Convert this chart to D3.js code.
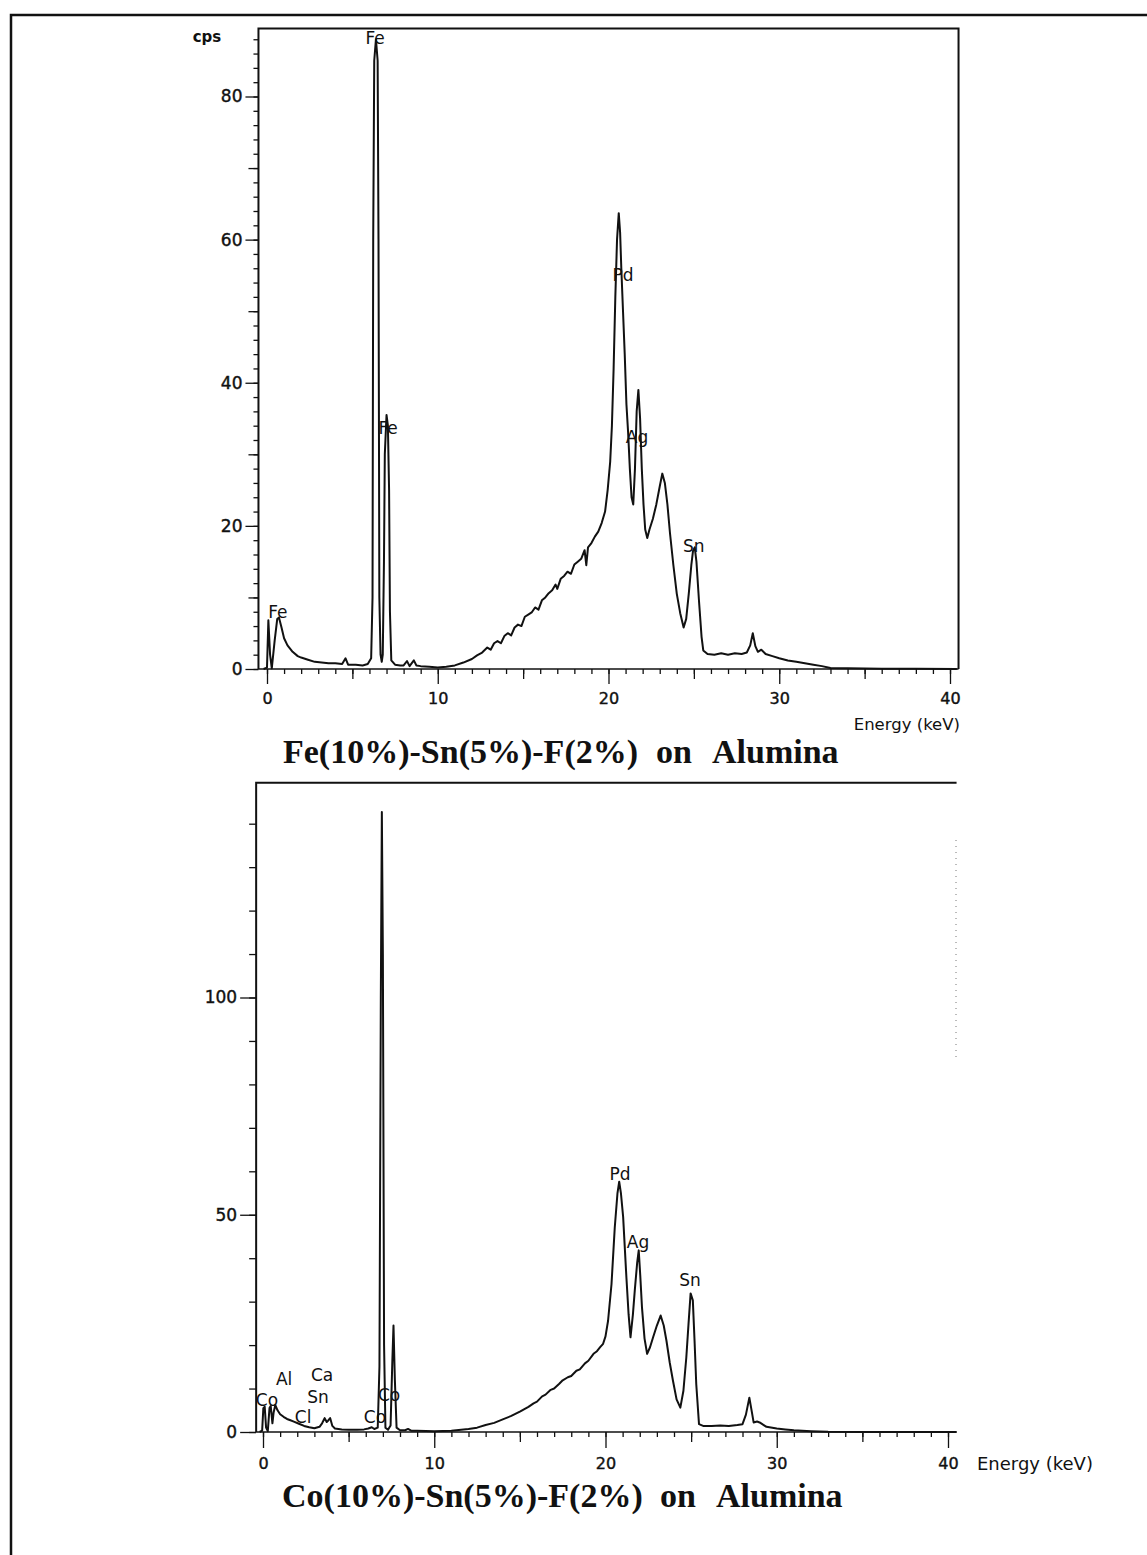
<!DOCTYPE html>
<html>
<head>
<meta charset="utf-8">
<script src="https://cdn.jsdelivr.net/npm/d3@7"></script>
<style>
  body { margin: 0; background: #fff; }
  .title { font-family: "Liberation Serif", "Times New Roman", serif; font-weight: bold; font-size: 34px; fill: #111; }
</style>
</head>
<body>
<svg id="page" width="1147" height="1555"></svg>
<script>
"use strict";

// Fe(10%)-Sn(5%)-F(2%) spectrum
var feEnergy = [-0.2, 0.0, 0.08, 0.18, 0.28, 0.45, 0.6, 0.7, 0.85, 1.0, 1.2, 1.5, 1.8, 2.0, 2.4, 2.8, 3.2, 3.6, 4.0, 4.4,
    4.6, 4.75, 5.2, 5.6, 5.9, 6.1, 6.18, 6.22, 6.28, 6.38, 6.48, 6.53, 6.58, 6.65, 6.72, 6.78, 6.85, 6.9, 7.0, 7.08,
    7.15, 7.2, 7.28, 7.5, 7.8, 8.0, 8.2, 8.35, 8.6, 8.75, 9.0, 9.5, 10.0, 10.5, 11.0, 11.5, 12.0, 12.3, 12.6, 12.9,
    13.1, 13.3, 13.5, 13.7, 13.9, 14.1, 14.3, 14.5, 14.7, 14.9, 15.1, 15.3, 15.5, 15.7, 15.9, 16.1, 16.3, 16.5, 16.7, 16.9,
    17.0, 17.2, 17.4, 17.6, 17.8, 18.0, 18.2, 18.4, 18.6, 18.7, 18.8, 19.0, 19.2, 19.4, 19.6, 19.8, 19.95, 20.1, 20.2, 20.3,
    20.4, 20.5, 20.6, 20.68, 20.75, 20.85, 20.95, 21.05, 21.15, 21.25, 21.35, 21.45, 21.55, 21.65, 21.75, 21.85, 21.95, 22.05, 22.15, 22.27,
    22.4, 22.6, 22.8, 23.0, 23.15, 23.3, 23.45, 23.6, 23.8, 24.0, 24.2, 24.4, 24.55, 24.7, 24.85, 24.95, 25.05, 25.15, 25.3, 25.45,
    25.55, 25.8, 26.2, 26.6, 27.0, 27.4, 27.8, 28.1, 28.3, 28.45, 28.6, 28.75, 28.95, 29.2, 29.6, 30.0, 30.5, 31.0, 31.5, 32.0,
    32.5, 33.0, 34.0, 36.0, 38.0, 40.4];
var feCps = [0, 0.2, 6.8, 2, 0.1, 4, 7.0, 7.2, 5.8, 4.3, 3.3, 2.4, 1.8, 1.6, 1.3, 1.0, 0.9, 0.8, 0.8, 0.7,
    1.5, 0.6, 0.6, 0.5, 0.7, 1.5, 10, 60, 85, 88, 85, 60, 10, 2, 1.0, 2, 15, 30, 35.5, 34,
    25, 8, 1.2, 0.6, 0.5, 0.5, 1.1, 0.4, 1.2, 0.5, 0.4, 0.3, 0.2, 0.3, 0.5, 0.9, 1.4, 1.9, 2.3, 3.0,
    2.7, 3.6, 3.9, 3.6, 4.6, 5.0, 4.7, 5.8, 6.2, 6.0, 7.3, 7.6, 7.9, 8.6, 8.3, 9.6, 10.0, 10.6, 11.0, 11.8,
    11.2, 12.6, 13.0, 13.6, 13.3, 14.6, 15.0, 15.4, 16.6, 14.5, 17.0, 17.6, 18.5, 19.2, 20.4, 22, 25, 29, 34, 42,
    52, 60, 63.7, 61, 56, 50, 44, 37, 33, 28, 24, 23, 28, 36, 39, 35, 28, 23, 19.5, 18.3,
    19.5, 21, 23, 25.5, 27.3, 26, 23, 19, 14.5, 10.5, 7.8, 5.8, 7, 10.5, 14.5, 16.5, 17, 15, 9.5, 4.5,
    2.6, 2.1, 2.0, 2.2, 2.0, 2.2, 2.1, 2.3, 3.3, 5.0, 3.2, 2.4, 2.7, 2.1, 1.8, 1.5, 1.2, 1.0, 0.8, 0.6,
    0.4, 0.15, 0.1, 0.05, 0.05, 0];

// Co(10%)-Sn(5%)-F(2%) spectrum
var coEnergy = [-0.2, -0.05, 0.02, 0.1, 0.18, 0.28, 0.38, 0.45, 0.55, 0.62, 0.72, 0.85, 1.0, 1.2, 1.4, 1.6, 1.8, 2.1, 2.4, 2.7,
    3.0, 3.3, 3.45, 3.6, 3.72, 3.8, 3.92, 4.05, 4.2, 4.6, 5.0, 5.5, 5.9, 6.15, 6.35, 6.5, 6.7, 6.8, 6.88, 6.94,
    7.0, 7.07, 7.15, 7.3, 7.45, 7.55, 7.62, 7.7, 7.8, 8.0, 8.3, 8.47, 8.65, 9.0, 10.0, 11.0, 12.0, 12.5, 13.0, 13.5,
    14.0, 14.5, 15.0, 15.5, 15.8, 16.0, 16.3, 16.5, 16.8, 17.0, 17.3, 17.5, 17.8, 18.0, 18.3, 18.5, 18.8, 19.0, 19.3, 19.5,
    19.7, 19.86, 20.0, 20.15, 20.35, 20.54, 20.7, 20.8, 20.9, 21.03, 21.22, 21.35, 21.46, 21.6, 21.71, 21.85, 21.94, 22.03, 22.13, 22.28,
    22.43, 22.6, 22.78, 23.0, 23.22, 23.4, 23.56, 23.75, 23.94, 24.15, 24.37, 24.55, 24.72, 24.85, 24.97, 25.1, 25.2, 25.3, 25.46, 25.7,
    26.2, 26.7, 27.2, 27.7, 28.0, 28.2, 28.4, 28.55, 28.65, 28.85, 29.0, 29.4, 30.0, 30.5, 31.0, 32.0, 33.0, 35.0, 40.5];
var coCps = [0, 0.3, 5.5, 5.8, 1, 0.2, 5.5, 6.0, 2, 4.5, 6.2, 5.0, 4.1, 3.5, 3.0, 2.7, 2.4, 1.9, 1.4, 1.1,
    0.85, 1.2, 2.0, 3.2, 2.3, 2.6, 3.2, 1.4, 0.8, 0.6, 0.5, 0.5, 0.6, 0.8, 1.1, 0.7, 1.0, 15, 100, 142.7,
    110, 20, 1.0, 0.5, 1.5, 16, 24.5, 12, 1.0, 0.4, 0.4, 0.7, 0.3, 0.3, 0.2, 0.3, 0.7, 1.0, 1.6, 2.1,
    2.9, 3.7, 4.7, 5.8, 6.6, 7.0, 8.2, 8.6, 9.7, 10.0, 11.1, 11.9, 12.6, 12.9, 14.1, 14.4, 15.8, 16.4, 18.0, 18.6,
    19.6, 20.3, 22, 25.6, 34, 47, 55, 57.6, 55, 49.5, 35.6, 27, 21.8, 27, 32.6, 39, 41.8, 36, 28.7, 21.5,
    18, 19.5, 21.8, 24.5, 26.8, 24.5, 21, 16, 11.8, 7.5, 5.6, 9.5, 17.2, 25, 31.9, 30.3, 21, 11, 1.8, 1.4,
    1.4, 1.5, 1.4, 1.6, 1.8, 4, 7.9, 4.5, 2.2, 2.4, 2.2, 1.2, 0.8, 0.6, 0.4, 0.2, 0.05, 0, 0];

// peak labels (energy, cps at label centre)
var feLabels = ["Fe", "Fe", "Fe", "Pd", "Ag", "Sn"];
var feLabelE = [0.64, 6.33, 7.09, 20.85, 21.67, 25.0];
var feLabelCps = [8.0, 88.2, 33.7, 55.1, 32.4, 17.2];

var coLabels = ["Co", "Al", "Ca", "Sn", "Cl", "Co", "Co", "Pd", "Ag", "Sn"];
var coLabelE = [0.23, 1.23, 3.45, 3.21, 2.34, 6.54, 7.36, 20.85, 21.9, 24.93];
var coLabelCps = [7.4, 12.2, 13.1, 8.1, 3.5, 3.5, 8.5, 59.4, 43.7, 35.0];

// ticks
var xMajor = [0, 10, 20, 30, 40];
var xMid = [5, 15, 25, 35];
var xMinor = d3.range(0, 41, 1);
var feYMajor = [0, 20, 40, 60, 80];
var feYMid = [10, 30, 50, 70];
var feYMinor = d3.range(0, 89, 2);
var coYMajor = [0, 50, 100];
var coYMinor = d3.range(0, 150, 10);

var svg = d3.select("#page");
svg.append("rect").attr("width", 1147).attr("height", 1555).attr("fill", "#fff");

// page border (top and left only)
svg.append("path")
    .attr("d", "M11,1555V15H1147")
    .attr("fill", "none")
    .attr("stroke", "#111")
    .attr("stroke-width", 2.5);

var ink = "#111";
var font = "'DejaVu Sans', sans-serif";

function styleAxis(g, size) {
    g.select(".domain").remove();
    g.selectAll("line").attr("stroke", ink).attr("stroke-width", 1.3);
    g.attr("font-family", font).attr("font-size", size);
    g.selectAll("text").attr("fill", ink)
        .attr("stroke", ink).attr("stroke-width", 0.4);
}

function drawPanel(opt) {
    var x = d3.scaleLinear().domain([0, 40]).range(opt.xRange);
    var y = d3.scaleLinear().domain([0, opt.yRef]).range(opt.yRange);
    var g = svg.append("g");

    // x axis ticks
    g.append("g").attr("transform", "translate(0," + y(0) + ")")
        .call(d3.axisBottom(x).tickValues(xMinor).tickSize(5).tickFormat(""))
        .call(styleAxis, 16);
    g.append("g").attr("transform", "translate(0," + y(0) + ")")
        .call(d3.axisBottom(x).tickValues(xMid).tickSize(10).tickFormat(""))
        .call(styleAxis, 16);
    g.append("g").attr("transform", "translate(0," + y(0) + ")")
        .call(d3.axisBottom(x).tickValues(xMajor).tickSize(opt.xMajorSize).tickPadding(opt.xPad).tickFormat(d3.format("d")))
        .call(styleAxis, 16);

    // y axis ticks
    var left = x(opt.xMin);
    g.append("g").attr("transform", "translate(" + left + ",0)")
        .call(d3.axisLeft(y).tickValues(opt.yMinor).tickSize(opt.yMinorSize).tickFormat(""))
        .call(styleAxis, 17);
    if (opt.yMid) {
        g.append("g").attr("transform", "translate(" + left + ",0)")
            .call(d3.axisLeft(y).tickValues(opt.yMid).tickSize(10).tickFormat(""))
            .call(styleAxis, 17);
    }
    g.append("g").attr("transform", "translate(" + left + ",0)")
        .call(d3.axisLeft(y).tickValues(opt.yMajor).tickSize(opt.yMajorSize).tickPadding(3).tickFormat(d3.format("d")))
        .call(styleAxis, 17);

    // frame
    var frame = "M" + left + "," + y(0) + "V" + y(opt.yMax) + "H" + x(opt.xMax);
    if (opt.rightBorder) frame += "V" + y(0);
    g.append("path").attr("d", frame)
        .attr("fill", "none").attr("stroke", ink).attr("stroke-width", 2);
    g.append("line")
        .attr("x1", left).attr("x2", x(opt.xMax))
        .attr("y1", y(0)).attr("y2", y(0))
        .attr("stroke", ink).attr("stroke-width", 1.6);

    // spectrum
    var line = d3.line()
        .x(function(i) { return x(opt.energy[i]); })
        .y(function(i) { return y(opt.cps[i]); });
    g.append("path")
        .datum(d3.range(opt.energy.length))
        .attr("d", line)
        .attr("fill", "none")
        .attr("stroke", ink)
        .attr("stroke-width", 2)
        .attr("stroke-linejoin", "round");

    // peak labels
    g.selectAll(".peak")
        .data(opt.labels)
        .enter().append("text")
        .attr("x", function(d, i) { return x(opt.labelE[i]); })
        .attr("y", function(d, i) { return y(opt.labelCps[i]); })
        .attr("dy", "0.36em")
        .attr("text-anchor", "middle")
        .attr("font-family", font)
        .attr("font-size", 17)
        .attr("fill", ink)
        .text(function(d) { return d; });

    return { x: x, y: y };
}

var fePanel = drawPanel({
    xRange: [267, 950], yRef: 80, yRange: [669, 96.5],
    xMin: -0.5, xMax: 40.5, yMax: 89.5, rightBorder: true,
    xMajorSize: 15, xPad: 9, yMinorSize: 5, yMajorSize: 13,
    yMajor: feYMajor, yMid: feYMid, yMinor: feYMinor,
    energy: feEnergy, cps: feCps,
    labels: feLabels, labelE: feLabelE, labelCps: feLabelCps
});

var coPanel = drawPanel({
    xRange: [263, 948], yRef: 100, yRange: [1432, 997.5],
    xMin: -0.4, xMax: 40.5, yMax: 149.4, rightBorder: false,
    xMajorSize: 16, xPad: 10, yMinorSize: 7, yMajorSize: 16,
    yMajor: coYMajor, yMid: null, yMinor: coYMinor,
    energy: coEnergy, cps: coCps,
    labels: coLabels, labelE: coLabelE, labelCps: coLabelCps
});

// faint dotted trace on the right of the lower panel
svg.append("line")
    .attr("x1", 956).attr("x2", 956).attr("y1", 840).attr("y2", 1060)
    .attr("stroke", "#777").attr("stroke-width", 1).attr("stroke-dasharray", "1,5");

// axis captions
svg.append("text").attr("x", 207).attr("y", 42).attr("text-anchor", "middle")
    .attr("font-family", font).attr("font-size", 15).attr("font-weight", "bold").attr("fill", ink)
    .text("cps");
svg.append("text").attr("x", 960).attr("y", 730).attr("text-anchor", "end")
    .attr("font-family", font).attr("font-size", 16.5).attr("fill", ink)
    .text("Energy (keV)");
svg.append("text").attr("x", 977).attr("y", 1470)
    .attr("font-family", font).attr("font-size", 18).attr("fill", ink)
    .text("Energy (keV)");

// sample titles
var titleParts = [["Fe(10%)-Sn(5%)-F(2%)", "on", "Alumina"], ["Co(10%)-Sn(5%)-F(2%)", "on", "Alumina"]];
var titleX = [[283, 656, 712], [282, 660, 716]];
var titleY = [763, 1507];
titleParts.forEach(function(parts, k) {
    parts.forEach(function(p, j) {
        svg.append("text").attr("class", "title")
            .attr("x", titleX[k][j]).attr("y", titleY[k])
            .text(p);
    });
});
</script>
</body>
</html>
